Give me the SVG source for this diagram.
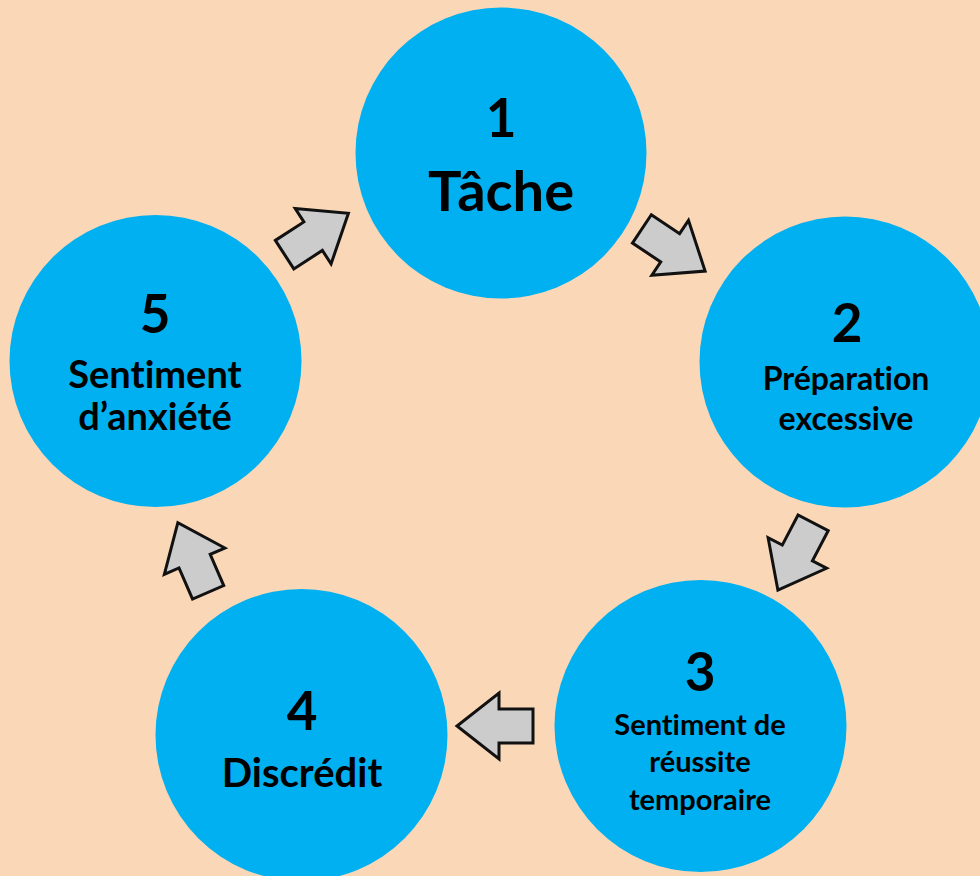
<svg xmlns="http://www.w3.org/2000/svg" xmlns:xlink="http://www.w3.org/1999/xlink" width="980" height="876" viewBox="0 0 980 876">
<style>
.bg{fill:#FAD7B6}
.c{fill:#00B0F0}
.t{font-family:Lato,"Liberation Sans",sans-serif;font-weight:700;fill:#000;text-anchor:middle;font-variant-ligatures:none}
.a{fill:#CCCCCC;stroke:#111;stroke-width:3;stroke-linejoin:miter}
</style>
<defs>
<polygon id="arw" points="-38,-17 -4,-17 -4,-33 38,0 -4,33 -4,17 -38,17"/>
</defs>
<rect class="bg" x="0" y="0" width="980" height="876"/>
<g id="n1">
<circle class="c" cx="501" cy="153" r="145.5"/>
<text class="t" x="501" y="137" font-size="53">1</text>
<text class="t" x="501" y="211" font-size="56">Tâche</text>
</g>
<g id="n2">
<circle class="c" cx="845" cy="362" r="145.5"/>
<text class="t" x="847" y="342" font-size="53">2</text>
<text class="t" x="846" y="390" font-size="32">Préparation</text>
<text class="t" x="846" y="430" font-size="32">excessive</text>
</g>
<g id="n3">
<circle class="c" cx="700.5" cy="726" r="146"/>
<text class="t" x="700" y="691" font-size="53">3</text>
<text class="t" x="700" y="735" font-size="29">Sentiment de</text>
<text class="t" x="700" y="772" font-size="29">réussite</text>
<text class="t" x="700" y="810" font-size="29">temporaire</text>
</g>
<g id="n4">
<circle class="c" cx="301.5" cy="735" r="146"/>
<text class="t" x="302" y="730" font-size="53">4</text>
<text class="t" x="302" y="787" font-size="40">Discrédit</text>
</g>
<g id="n5">
<circle class="c" cx="155.5" cy="361" r="146"/>
<text class="t" x="155" y="333" font-size="53">5</text>
<text class="t" x="155" y="388" font-size="38">Sentiment</text>
<text class="t" x="155" y="430" font-size="38">d’anxiété</text>
</g>
<g id="connectors">
<use xlink:href="#arw" href="#arw" class="a" transform="translate(316.5,234) rotate(-32.9)"/>
<use xlink:href="#arw" href="#arw" class="a" transform="translate(673.5,250) rotate(33.7)"/>
<use xlink:href="#arw" href="#arw" class="a" transform="translate(795.5,556.5) rotate(117.6)"/>
<use xlink:href="#arw" href="#arw" class="a" transform="translate(495,726) rotate(180)"/>
<use xlink:href="#arw" href="#arw" class="a" transform="translate(193,557.5) rotate(-113.5)"/>
</g>
</svg>
